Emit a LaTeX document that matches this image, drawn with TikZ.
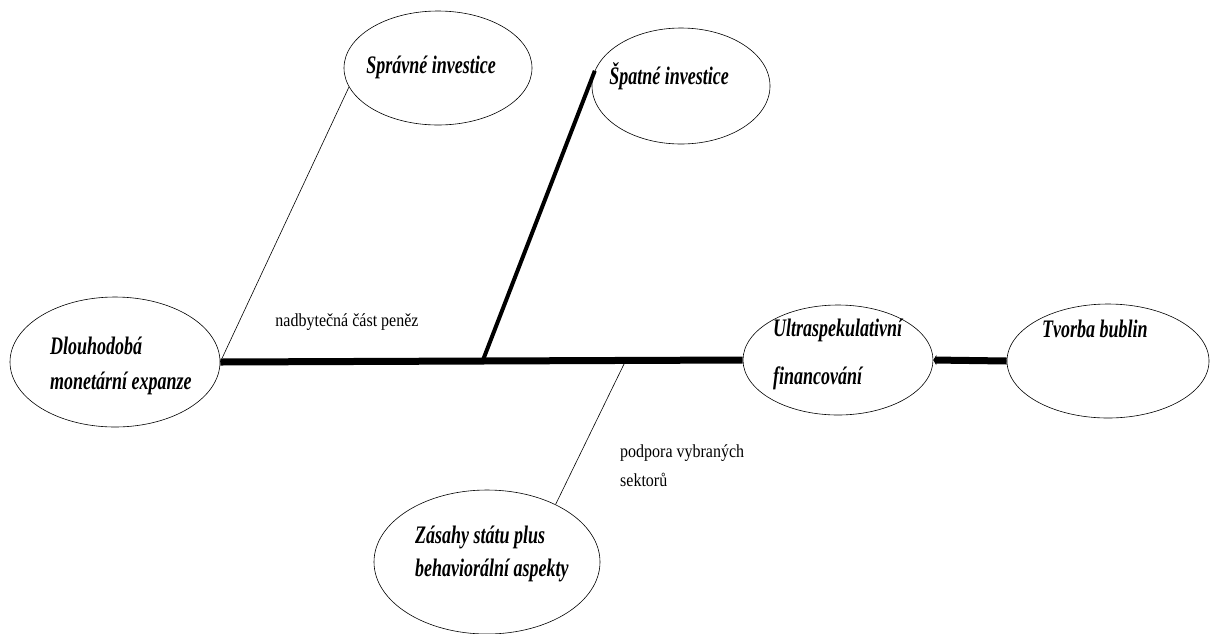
\documentclass[tikz,border=0pt]{standalone}
\usepackage{fontspec}
\usepackage{graphicx}
\setmainfont{Liberation Serif}
\usetikzlibrary{shapes.geometric,arrows.meta}
\newcommand{\tallE}[1]{\scalebox{1}[1.4]{#1}}
\newcommand{\tallL}[1]{\scalebox{1}[1.15]{#1}}
\tikzset{
  oval/.style={draw, ellipse, line width=0.6pt, inner sep=0pt},
  etext/.style={font=\fontsize{18}{22}\selectfont\bfseries\itshape, align=left, inner sep=0pt},
  lbl/.style={font=\fontsize{16}{29}\selectfont, align=left, inner sep=0pt},
  thickline/.style={line width=7pt},
  thinline/.style={line width=0.6pt}
}
\begin{document}
\begin{tikzpicture}[x=1pt,y=-1pt]
\useasboundingbox (0,0) rectangle (1212,633);
% ellipses
\node[oval, minimum width=210pt, minimum height=130pt] (dl) at (115,362) {};
\node[oval, minimum width=188pt, minimum height=114pt] (sp) at (438,68) {};
\node[oval, minimum width=178pt, minimum height=116pt] (spat) at (681,86) {};
\node[oval, minimum width=226pt, minimum height=144pt] (za) at (487,562) {};
\node[oval, minimum width=190pt, minimum height=110pt] (ul) at (838,360) {};
\node[oval, minimum width=202pt, minimum height=114pt] (tv) at (1108,361) {};
% texts
\node[etext, anchor=west] (tdl1) at (50,346) {\tallE{Dlouhodobá}};
\node[etext, anchor=west] (tdl2) at (50,383) {\tallE{monetární expanze}};
\node[etext] (tsp) at (431,67) {\tallE{Správné investice}};
\node[etext] (tspat) at (669,76) {\tallE{Špatné investice}};
\node[etext, anchor=west] (tza1) at (415,537) {\tallE{Zásahy státu plus}};
\node[etext, anchor=west] (tza2) at (415,570) {\tallE{behaviorální aspekty}};
\node[etext, anchor=west] (tul1) at (773,330) {\tallE{Ultraspekulativní}};
\node[etext, anchor=west] (tul2) at (773,378) {\tallE{financování}};
\node[etext, anchor=west] (ttv) at (1042,329) {\tallE{Tvorba bublin}};
% labels
\node[lbl] (lnad) at (347,322) {\tallL{nadbytečná část peněz}};
\node[lbl, anchor=north west] (lpod) at (620,444) {\tallL{podpora vybraných}\\\tallL{sektorů}};
% connectors
\coordinate (j1) at (483,360);
\coordinate (j2) at (625,362);
\draw[thickline] (dl.east) -- (ul.west);
\draw[thinline] (dl.east) -- (sp.192);
\draw[line width=4pt] (j1) -- (spat.170);
\draw[thinline] (j2) -- (za.40);
\draw[thickline, -{Triangle[length=3pt,width=10pt]}] (tv.west) -- (ul.east);
\end{tikzpicture}
\end{document}
